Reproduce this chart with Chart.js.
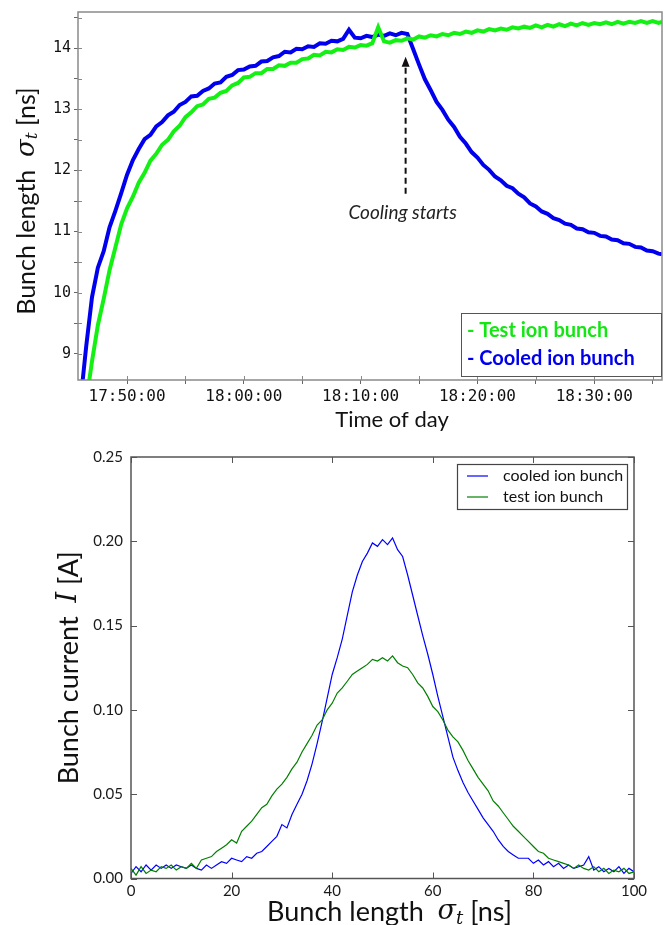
<!DOCTYPE html>
<html lang="en">
<head>
<meta charset="UTF-8">
<title>Bunch length and bunch profile</title>
<script src="https://cdn.jsdelivr.net/npm/chart.js"></script>
<style>
  html, body { margin: 0; padding: 0; background: #fff; }
  body { width: 665px; height: 925px; position: relative; overflow: hidden; }
  .panel { position: absolute; left: 0; width: 665px; }
  #topPanel { top: 0; height: 440px; }
  #bottomPanel { top: 440px; height: 485px; }
</style>
</head>
<body>
<div class="panel" id="topPanel"><canvas id="lengthChart"></canvas></div>
<div class="panel" id="bottomPanel"><canvas id="profileChart"></canvas></div>

<script>
// ---- top panel: bunch length vs time of day (minutes after 17:00:00) ----
const clockMinutes = [
  46, 46.5, 47, 47.5, 48, 48.5, 49, 49.5, 50, 50.5,
  51, 51.5, 52, 52.5, 53, 53.5, 54, 54.5, 55, 55.5,
  56, 56.5, 57, 57.5, 58, 58.5, 59, 59.5, 60, 60.5,
  61, 61.5, 62, 62.5, 63, 63.5, 64, 64.5, 65, 65.5,
  66, 66.5, 67, 67.5, 68, 68.5, 69, 69.5, 70, 70.5,
  71, 71.5, 72, 72.5, 73, 73.5, 74, 74.5, 75, 75.5,
  76, 76.5, 77, 77.5, 78, 78.5, 79, 79.5, 80, 80.5,
  81, 81.5, 82, 82.5, 83, 83.5, 84, 84.5, 85, 85.5,
  86, 86.5, 87, 87.5, 88, 88.5, 89, 89.5, 90, 90.5,
  91, 91.5, 92, 92.5, 93, 93.5, 94, 94.5, 95, 95.5, 95.8
];
const cooledBunchNs = [
  8.20, 9.12, 9.93, 10.41, 10.68, 11.07, 11.34, 11.63, 11.93, 12.17,
  12.35, 12.51, 12.58, 12.72, 12.79, 12.90, 12.96, 13.07, 13.12, 13.21,
  13.22, 13.30, 13.34, 13.42, 13.44, 13.53, 13.56, 13.64, 13.65, 13.70,
  13.71, 13.78, 13.79, 13.85, 13.87, 13.94, 13.93, 13.99, 13.98, 14.03,
  14.02, 14.08, 14.07, 14.12, 14.11, 14.15, 14.30, 14.17, 14.16, 14.20,
  14.18, 14.22, 14.20, 14.24, 14.21, 14.25, 14.23, 13.98, 13.73, 13.49,
  13.31, 13.12, 12.99, 12.83, 12.71, 12.55, 12.44, 12.30, 12.21, 12.09,
  12.01, 11.90, 11.84, 11.75, 11.71, 11.62, 11.56, 11.46, 11.41, 11.33,
  11.29, 11.22, 11.19, 11.13, 11.11, 11.05, 11.04, 10.99, 10.98, 10.93,
  10.92, 10.87, 10.86, 10.81, 10.80, 10.75, 10.74, 10.69, 10.68, 10.64, 10.63
];
const testBunchNs = [
  7.60, 8.22, 8.88, 9.47, 9.90, 10.37, 10.74, 11.12, 11.38, 11.57,
  11.80, 11.96, 12.16, 12.27, 12.42, 12.50, 12.64, 12.73, 12.87, 12.95,
  13.05, 13.08, 13.17, 13.19, 13.27, 13.30, 13.39, 13.43, 13.52, 13.53,
  13.59, 13.59, 13.66, 13.66, 13.72, 13.71, 13.76, 13.76, 13.82, 13.83,
  13.89, 13.88, 13.94, 13.93, 13.98, 13.97, 14.02, 14.01, 14.05, 14.04,
  14.08, 14.34, 14.11, 14.09, 14.13, 14.12, 14.16, 14.14, 14.19, 14.17,
  14.21, 14.19, 14.23, 14.21, 14.25, 14.23, 14.27, 14.25, 14.29, 14.27,
  14.31, 14.29, 14.32, 14.30, 14.34, 14.32, 14.35, 14.33, 14.37, 14.34,
  14.38, 14.35, 14.39, 14.36, 14.40, 14.37, 14.41, 14.38, 14.41, 14.39,
  14.42, 14.39, 14.43, 14.40, 14.43, 14.41, 14.44, 14.41, 14.44, 14.41, 14.43
];
// tick positions (minutes after 17:00); labelled every 10 min
const clockTickMinutes = [50, 55, 60, 65, 70, 75, 80, 85, 90, 95];
const lengthTicksNs = [9, 9.5, 10, 10.5, 11, 11.5, 12, 12.5, 13, 13.5, 14, 14.5];
const coolingStartMin = 73.85;

// ---- bottom panel: bunch current profile ----
const bunchLengthNs = [
  0, 1, 2, 3, 4, 5, 6, 7, 8, 9,
  10, 11, 12, 13, 14, 15, 16, 17, 18, 19,
  20, 21, 22, 23, 24, 25, 26, 27, 28, 29,
  30, 31, 32, 33, 34, 35, 36, 37, 38, 39,
  40, 41, 42, 43, 44, 45, 46, 47, 48, 49,
  50, 51, 52, 53, 54, 55, 56, 57, 58, 59,
  60, 61, 62, 63, 64, 65, 66, 67, 68, 69,
  70, 71, 72, 73, 74, 75, 76, 77, 78, 79,
  80, 81, 82, 83, 84, 85, 86, 87, 88, 89,
  90, 91, 92, 93, 94, 95, 96, 97, 98, 99, 100
];
const cooledCurrentA = [
  0.003, 0.007, 0.004, 0.008, 0.005, 0.008, 0.006, 0.008, 0.006, 0.008,
  0.007, 0.006, 0.008, 0.006, 0.005, 0.008, 0.006, 0.008, 0.010, 0.009,
  0.012, 0.011, 0.010, 0.013, 0.012, 0.015, 0.016, 0.019, 0.022, 0.025,
  0.032, 0.030, 0.038, 0.044, 0.050, 0.058, 0.068, 0.080, 0.093, 0.107,
  0.121, 0.131, 0.142, 0.156, 0.170, 0.180, 0.188, 0.193, 0.199, 0.197,
  0.201, 0.198, 0.202, 0.195, 0.191, 0.180, 0.168, 0.156, 0.144, 0.133,
  0.121, 0.108, 0.096, 0.084, 0.072, 0.064, 0.057, 0.051, 0.046, 0.041,
  0.036, 0.032, 0.028, 0.023, 0.019, 0.016, 0.014, 0.012, 0.012, 0.012,
  0.009, 0.011, 0.008, 0.010, 0.007, 0.009, 0.006, 0.008, 0.006, 0.007,
  0.008, 0.013, 0.005, 0.007, 0.004, 0.006, 0.004, 0.007, 0.003, 0.006, 0.004
];
const testCurrentA = [
  0.006, 0.002, 0.007, 0.003, 0.005, 0.004, 0.007, 0.006, 0.008, 0.005,
  0.007, 0.006, 0.009, 0.006, 0.011, 0.012, 0.013, 0.016, 0.018, 0.020,
  0.023, 0.021, 0.028, 0.031, 0.034, 0.038, 0.042, 0.044, 0.049, 0.053,
  0.056, 0.060, 0.065, 0.069, 0.075, 0.080, 0.085, 0.091, 0.094, 0.100,
  0.104, 0.110, 0.113, 0.117, 0.121, 0.123, 0.125, 0.127, 0.130, 0.129,
  0.131, 0.129, 0.132, 0.128, 0.126, 0.125, 0.121, 0.116, 0.113, 0.108,
  0.102, 0.099, 0.094, 0.088, 0.084, 0.081, 0.076, 0.070, 0.065, 0.060,
  0.056, 0.052, 0.046, 0.043, 0.039, 0.035, 0.031, 0.028, 0.025, 0.022,
  0.019, 0.016, 0.015, 0.012, 0.011, 0.010, 0.009, 0.008, 0.006, 0.008,
  0.006, 0.005, 0.007, 0.004, 0.006, 0.003, 0.005, 0.004, 0.006, 0.003, 0.004
];

const pairs = (xs, ys) => xs.map((x, i) => ({ x: x, y: ys[i] }));

function clockLabel(v) {
  const total = Math.round(v);
  if (Math.abs(v - total) > 1e-6 || total % 10 !== 0) return '';
  const h = 17 + Math.floor(total / 60);
  const m = total % 60;
  return h + ':' + String(m).padStart(2, '0') + ':00';
}

// draws a run of text pieces (different fonts) centred at cx, cy
function drawRuns(ctx, runs, cx, cy, angle) {
  ctx.save();
  ctx.translate(cx, cy);
  ctx.rotate(angle || 0);
  ctx.textBaseline = 'middle';
  ctx.textAlign = 'left';
  let total = 0;
  runs.forEach(r => { ctx.font = r.font; r.w = ctx.measureText(r.text).width; total += r.w; });
  let x = -total / 2;
  runs.forEach(r => {
    ctx.font = r.font;
    ctx.fillStyle = r.color || '#111';
    ctx.fillText(r.text, x, r.dy || 0);
    x += r.w;
  });
  ctx.restore();
}

// box around the plot area plus tick marks pointing inwards
const frameTicks = {
  id: 'frameTicks',
  afterDraw(chart, args, opts) {
    const { ctx, chartArea: a, scales: { x, y } } = chart;
    ctx.save();
    ctx.strokeStyle = opts.color;
    ctx.lineWidth = opts.width;
    ctx.strokeRect(a.left, a.top, a.right - a.left, a.bottom - a.top);
    ctx.lineWidth = 1;
    ctx.beginPath();
    x.ticks.forEach(t => {
      const px = Math.round(x.getPixelForValue(t.value)) + 0.5;
      ctx.moveTo(px, a.bottom); ctx.lineTo(px, a.bottom - opts.len);
      if (opts.mirror) { ctx.moveTo(px, a.top); ctx.lineTo(px, a.top + opts.len); }
    });
    y.ticks.forEach(t => {
      const py = Math.round(y.getPixelForValue(t.value)) + 0.5;
      ctx.moveTo(a.left, py); ctx.lineTo(a.left + opts.len, py);
      if (opts.mirror) { ctx.moveTo(a.right, py); ctx.lineTo(a.right - opts.len, py); }
    });
    ctx.stroke();
    ctx.restore();
  }
};

// titles, legend box and the "Cooling starts" arrow for the top panel
const lengthDecor = {
  id: 'lengthDecor',
  afterDraw(chart) {
    const { ctx, chartArea: a, scales: { x, y } } = chart;
    const sans = 'Lato, "Open Sans", sans-serif';
    drawRuns(ctx, [
      { text: 'Bunch length  ', font: '25px ' + sans },
      { text: 'σ', font: 'italic 26px "DejaVu Serif", serif' },
      { text: 't', font: 'italic 17px "DejaVu Serif", serif', dy: 6 },
      { text: ' [ns]', font: '25px ' + sans }
    ], 27, (a.top + a.bottom) / 2 + 5, -Math.PI / 2);
    drawRuns(ctx, [{ text: 'Time of day', font: '22px ' + sans }], (a.left + a.right) / 2 + 22, 420, 0);

    // arrow
    const ax = x.getPixelForValue(coolingStartMin);
    const tip = y.getPixelForValue(13.86);
    const tail = y.getPixelForValue(11.62);
    ctx.save();
    ctx.strokeStyle = '#111';
    ctx.lineWidth = 2;
    ctx.setLineDash([6, 4]);
    ctx.beginPath();
    ctx.moveTo(ax, tail); ctx.lineTo(ax, tip + 8);
    ctx.stroke();
    ctx.setLineDash([]);
    ctx.fillStyle = '#111';
    ctx.beginPath();
    ctx.moveTo(ax, tip); ctx.lineTo(ax - 4, tip + 10); ctx.lineTo(ax + 4, tip + 10);
    ctx.closePath(); ctx.fill();
    ctx.restore();
    drawRuns(ctx, [{ text: 'Cooling starts', font: 'italic 19px ' + sans, color: '#222' }],
      x.getPixelForValue(coolingStartMin) - 3, y.getPixelForValue(11.3), 0);

    // legend
    const bw = 200, bh = 63;
    const bx = a.right - 1 - bw, by = a.bottom - 4 - bh;
    ctx.save();
    ctx.fillStyle = '#fff';
    ctx.fillRect(bx, by, bw, bh);
    ctx.strokeStyle = '#555';
    ctx.lineWidth = 1;
    ctx.strokeRect(bx + 0.5, by + 0.5, bw, bh);
    ctx.font = 'bold 20px ' + sans;
    ctx.textBaseline = 'middle';
    ctx.fillStyle = '#14e614';
    ctx.fillText('- Test ion bunch', bx + 6, by + 18);
    ctx.fillStyle = '#0000ee';
    ctx.fillText('- Cooled ion bunch', bx + 6, by + 46);
    ctx.restore();
  }
};

// titles and legend for the bottom panel
const profileDecor = {
  id: 'profileDecor',
  afterDraw(chart) {
    const { ctx, chartArea: a } = chart;
    const sans = 'Lato, "Open Sans", sans-serif';
    drawRuns(ctx, [
      { text: 'Bunch current  ', font: '27px ' + sans },
      { text: 'I', font: 'italic 27px "DejaVu Serif", serif' },
      { text: ' [A]', font: '27px ' + sans }
    ], 69, (a.top + a.bottom) / 2, -Math.PI / 2);
    drawRuns(ctx, [
      { text: 'Bunch length  ', font: '27px ' + sans },
      { text: 'σ', font: 'italic 27px "DejaVu Serif", serif' },
      { text: 't', font: 'italic 18px "DejaVu Serif", serif', dy: 7 },
      { text: ' [ns]', font: '27px ' + sans }
    ], (a.left + a.right) / 2 + 7, 472, 0);

    const bw = 170, bh = 45;
    const bx = a.right - 7 - bw, by = a.top + 7;
    ctx.save();
    ctx.fillStyle = '#fff';
    ctx.fillRect(bx, by, bw, bh);
    ctx.strokeStyle = '#444';
    ctx.lineWidth = 1.2;
    ctx.strokeRect(bx + 0.5, by + 0.5, bw, bh);
    const rows = [['cooled ion bunch', '#0000ff', by + 12], ['test ion bunch', '#008000', by + 33]];
    rows.forEach(([label, color, ry]) => {
      ctx.strokeStyle = color;
      ctx.beginPath(); ctx.moveTo(bx + 10, ry); ctx.lineTo(bx + 31, ry); ctx.stroke();
      ctx.fillStyle = '#111';
      ctx.font = '16px ' + sans;
      ctx.textBaseline = 'middle';
      ctx.fillText(label, bx + 46, ry);
    });
    ctx.restore();
  }
};

Chart.defaults.animation = false;
Chart.defaults.font.family = 'Lato, "Open Sans", sans-serif';

new Chart(document.getElementById('lengthChart'), {
  type: 'line',
  data: {
    datasets: [
      { label: 'Cooled ion bunch', data: pairs(clockMinutes, cooledBunchNs), borderColor: '#0000ee',
        borderWidth: 4, pointRadius: 0, tension: 0, order: 2 },
      { label: 'Test ion bunch', data: pairs(clockMinutes, testBunchNs), borderColor: '#14f014',
        borderWidth: 4, pointRadius: 0, tension: 0, order: 1 }
    ]
  },
  options: {
    responsive: true,
    maintainAspectRatio: false,
    layout: { padding: { top: 12, right: 3, left: 0, bottom: 0 } },
    plugins: { legend: { display: false }, tooltip: { enabled: false }, frameTicks: { color: '#8a8a8a', width: 1.5, len: 4, mirror: false } },
    scales: {
      x: {
        type: 'linear', min: 45.8, max: 95.8,
        afterBuildTicks: s => { s.ticks = clockTickMinutes.map(v => ({ value: v })); },
        afterFit: s => { s.height = 60; },
        grid: { drawOnChartArea: false, tickLength: 4, color: '#666' },
        border: { display: false },
        ticks: { autoSkip: false, maxRotation: 0, padding: 3,
          callback: v => clockLabel(v), color: '#111', font: { family: '"DejaVu Sans Mono", monospace', size: 16 } }
      },
      y: {
        min: 8.574, max: 14.59,
        afterBuildTicks: s => { s.ticks = lengthTicksNs.map(v => ({ value: v })); },
        afterFit: s => { s.width = 78; },
        grid: { drawOnChartArea: false, tickLength: 4, color: '#666' },
        border: { display: false },
        ticks: { autoSkip: false, padding: 3,
          callback: v => (Math.abs(v - Math.round(v)) < 1e-6 ? String(Math.round(v)) : ''),
          color: '#111', font: { family: '"DejaVu Sans Mono", monospace', size: 15 } }
      }
    }
  },
  plugins: [frameTicks, lengthDecor]
});

new Chart(document.getElementById('profileChart'), {
  type: 'line',
  data: {
    datasets: [
      { label: 'cooled ion bunch', data: pairs(bunchLengthNs, cooledCurrentA), borderColor: '#0000ff',
        borderWidth: 1.2, pointRadius: 0, tension: 0, order: 2 },
      { label: 'test ion bunch', data: pairs(bunchLengthNs, testCurrentA), borderColor: '#008000',
        borderWidth: 1.2, pointRadius: 0, tension: 0, order: 1 }
    ]
  },
  options: {
    responsive: true,
    maintainAspectRatio: false,
    layout: { padding: { top: 10, right: 31, left: 0, bottom: 0 } },
    plugins: { legend: { display: false }, tooltip: { enabled: false }, frameTicks: { color: '#555', width: 1.5, len: 6, mirror: true } },
    scales: {
      x: {
        type: 'linear', min: 0, max: 100,
        afterFit: s => { s.height = 46.5; },
        grid: { display: false, drawTicks: false },
        border: { display: false },
        ticks: { stepSize: 20, maxRotation: 0, padding: 4, color: '#1a1a1a', font: { size: 15 } }
      },
      y: {
        min: 0, max: 0.25,
        afterFit: s => { s.width = 131; },
        grid: { display: false, drawTicks: false },
        border: { display: false },
        ticks: { stepSize: 0.05, padding: 8, color: '#1a1a1a', font: { size: 15 },
          callback: v => v.toFixed(2) }
      }
    }
  },
  plugins: [frameTicks, profileDecor]
});
</script>
</body>
</html>
